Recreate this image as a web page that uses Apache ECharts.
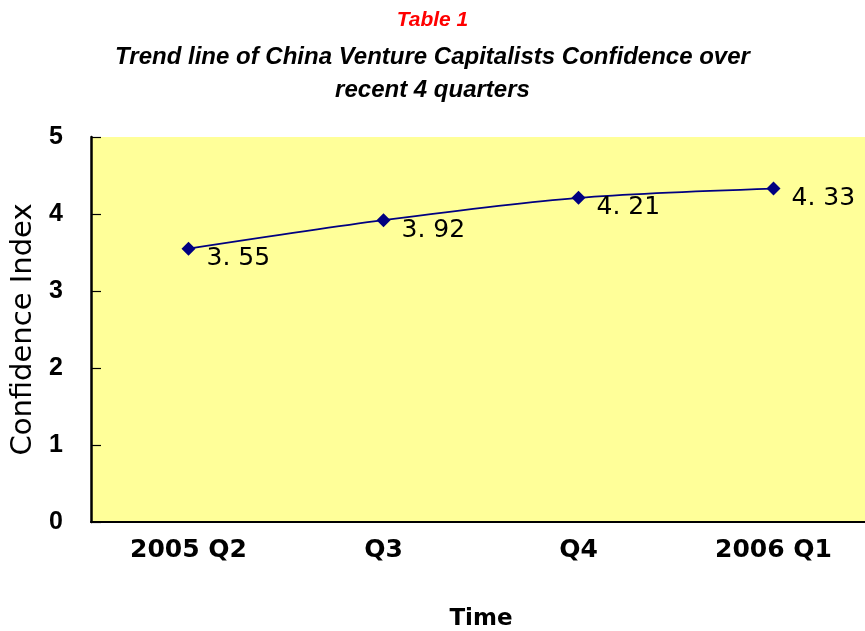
<!DOCTYPE html>
<html><head><meta charset="utf-8">
<script src="https://cdn.jsdelivr.net/npm/echarts@6/dist/echarts.min.js"></script>
<style>html,body{margin:0;padding:0;background:#fff}#c{width:865px;height:631px}</style>
</head><body><div id="c"></div>
<script>
var categories = ['2005 Q2', 'Q3', 'Q4', '2006 Q1'];
var confidence = [3.55, 3.92, 4.21, 4.33];
var valueLabels = ['3. 55', '3. 92', '4. 21', '4. 33'];
var yTicks = [0, 1, 2, 3, 4, 5];

var chart = echarts.init(document.getElementById('c'), null, {renderer: 'canvas'});
var TFONT = 'Liberation Sans, Arial, sans-serif';
var FONT = 'DejaVu Sans, sans-serif';
chart.setOption({
  backgroundColor: '#ffffff',
  animation: false,
  title: [
    {text: 'Table 1', left: 'center', top: 5, textStyle: {color: '#ff0000', fontStyle: 'italic', fontWeight: 'bold', fontSize: 21, fontFamily: TFONT}},
    {text: 'Trend line of China Venture Capitalists Confidence over', left: 'center', top: 40, textStyle: {color: '#000', fontStyle: 'italic', fontWeight: 'bold', fontSize: 24, fontFamily: TFONT}},
    {text: 'recent 4 quarters', left: 'center', top: 73, textStyle: {color: '#000', fontStyle: 'italic', fontWeight: 'bold', fontSize: 24, fontFamily: TFONT}}
  ],
  grid: {left: 91, top: 137, width: 780, height: 385, show: true, backgroundColor: '#ffff99', borderWidth: 0, outerBoundsMode: 'none', containLabel: false},
  xAxis: {
    type: 'category', data: categories, boundaryGap: true,
    name: 'Time', nameLocation: 'middle', nameGap: 86,
    nameTextStyle: {color: '#000', fontSize: 23, fontWeight: 'bold', fontFamily: FONT},
    axisLine: {lineStyle: {color: '#000', width: 2}},
    axisTick: {inside: true, length: 9, lineStyle: {color: '#000', width: 1.2}},
    axisLabel: {color: '#000', fontSize: 25, fontWeight: 'bold', fontFamily: FONT, margin: 16},
    splitLine: {show: false}
  },
  yAxis: {
    type: 'value', min: 0, max: 5, interval: 1,
    name: 'Confidence Index', nameLocation: 'middle', nameGap: 45,
    nameTextStyle: {color: '#000', fontSize: 29, fontFamily: FONT},
    axisLine: {show: true, lineStyle: {color: '#000', width: 2.5}},
    axisTick: {show: true, inside: true, length: 10, lineStyle: {color: '#000', width: 1.2}},
    axisLabel: {color: '#000', fontSize: 25, fontWeight: 'bold', fontFamily: TFONT, margin: 28,
      formatter: function (v) { return yTicks.indexOf(v) >= 0 ? String(v) : ''; }},
    splitLine: {show: false}
  },
  series: [{
    type: 'line', data: confidence, smooth: 0.3,
    symbol: 'diamond', symbolSize: 14,
    lineStyle: {color: '#000080', width: 1.8},
    itemStyle: {color: '#000080'},
    label: {show: true, position: 'right', offset: [6, 10], color: '#000', fontSize: 25, fontFamily: FONT,
      formatter: function (p) { return valueLabels[p.dataIndex]; }}
  }]
});
</script></body></html>
